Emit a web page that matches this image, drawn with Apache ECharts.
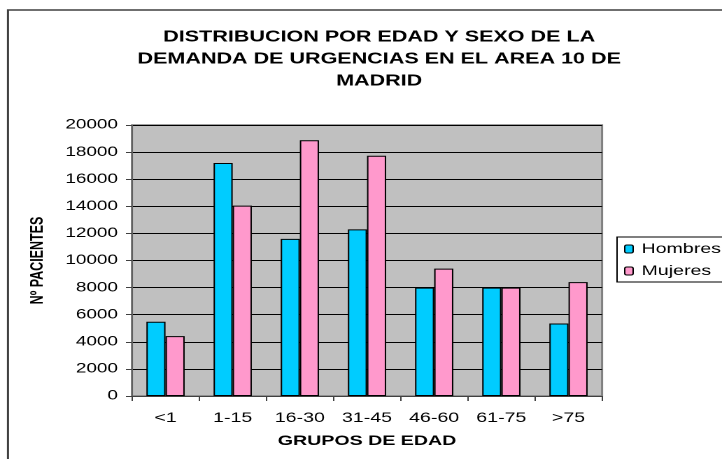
<!DOCTYPE html>
<html>
<head>
<meta charset="utf-8">
<script src="https://cdn.jsdelivr.net/npm/echarts@6/dist/echarts.min.js"></script>
<style>
  html, body { margin: 0; padding: 0; background: #fff; overflow: hidden; }
  /* el original esta estirado en horizontal: se dibuja estrecho y se estira */
  #main { width: 516px; height: 459px; transform: scaleX(1.3992); transform-origin: 0 0; }
</style>
</head>
<body>
<div id="main"></div>
<script>
// datos
var grupos = ['<1', '1-15', '16-30', '31-45', '46-60', '61-75', '>75'];
var hombres = [5480, 17200, 11600, 12300, 8000, 8000, 5350];
var mujeres = [4420, 14050, 18870, 17730, 9400, 8000, 8400];
var yTicks = { min: 0, max: 20000, step: 2000 };

var FONT = 'Liberation Sans, Arial, sans-serif';
var myChart = echarts.init(document.getElementById('main'), null, { devicePixelRatio: 2 });

var option = {
  backgroundColor: '#fff',
  animation: false,
  title: {
    text: 'DISTRIBUCION POR EDAD Y SEXO DE LA\nDEMANDA DE URGENCIAS EN EL AREA 10 DE\nMADRID',
    left: 266,
    top: 21,
    textAlign: 'center',
    textStyle: { fontFamily: FONT, fontSize: 15.4, fontWeight: 'bold', color: '#000', lineHeight: 22 }
  },
  graphic: [{
    type: 'rect',
    shape: { x: 5.7, y: 10, width: 600, height: 500 },
    style: { fill: 'none', stroke: '#404040', lineWidth: 1.5 },
    z: 100
  }],
  legend: {
    orient: 'vertical',
    left: 441,
    top: 237,
    itemWidth: 6,
    itemHeight: 8,
    itemGap: 6,
    padding: [4, 20, 3, 5],
    borderColor: '#000',
    borderWidth: 1,
    itemStyle: { borderColor: '#000', borderWidth: 1 },
    textStyle: { fontFamily: FONT, fontSize: 14, color: '#000', lineHeight: 16, padding: [0, 0, 0, 1] },
    data: ['Hombres', 'Mujeres']
  },
  grid: {
    left: 94.3,
    right: 85.7,
    top: 125,
    bottom: 63,
    show: true,
    backgroundColor: '#c0c0c0',
    borderColor: '#808080',
    borderWidth: 1.5
  },
  xAxis: {
    type: 'category',
    data: grupos,
    name: 'GRUPOS DE EDAD',
    nameLocation: 'middle',
    nameGap: 38,
    nameTextStyle: { fontFamily: FONT, fontSize: 14, fontWeight: 'bold', color: '#000' },
    axisLine: { lineStyle: { color: '#404040', width: 1 } },
    axisTick: { show: true, length: 5, interval: 0, lineStyle: { color: '#404040' } },
    axisLabel: { fontFamily: FONT, fontSize: 14, color: '#000', margin: 15 }
  },
  yAxis: {
    type: 'value',
    min: yTicks.min,
    max: yTicks.max,
    interval: yTicks.step,
    name: 'Nº PACIENTES',
    nameLocation: 'middle',
    nameGap: 61,
    nameRotate: 90,
    nameTextStyle: { fontFamily: FONT, fontSize: 12.5, fontWeight: 'bold', color: '#000' },
    axisLine: { show: true, lineStyle: { color: '#606060', width: 1 } },
    axisTick: { show: true, length: 4.3, lineStyle: { color: '#404040' } },
    axisLabel: {
      fontFamily: FONT, fontSize: 13.5, color: '#000', margin: 10,
      formatter: function (v) { return String(v); }
    },
    splitLine: { show: true, lineStyle: { color: '#000', width: 1 } }
  },
  series: [
    {
      name: 'Hombres',
      type: 'bar',
      data: hombres,
      barGap: '0%',
      barCategoryGap: '43%',
      itemStyle: { color: '#00ccff', borderColor: '#000', borderWidth: 1 }
    },
    {
      name: 'Mujeres',
      type: 'bar',
      data: mujeres,
      itemStyle: { color: '#ff99cc', borderColor: '#000', borderWidth: 1 }
    }
  ]
};

myChart.setOption(option);
</script>
</body>
</html>
